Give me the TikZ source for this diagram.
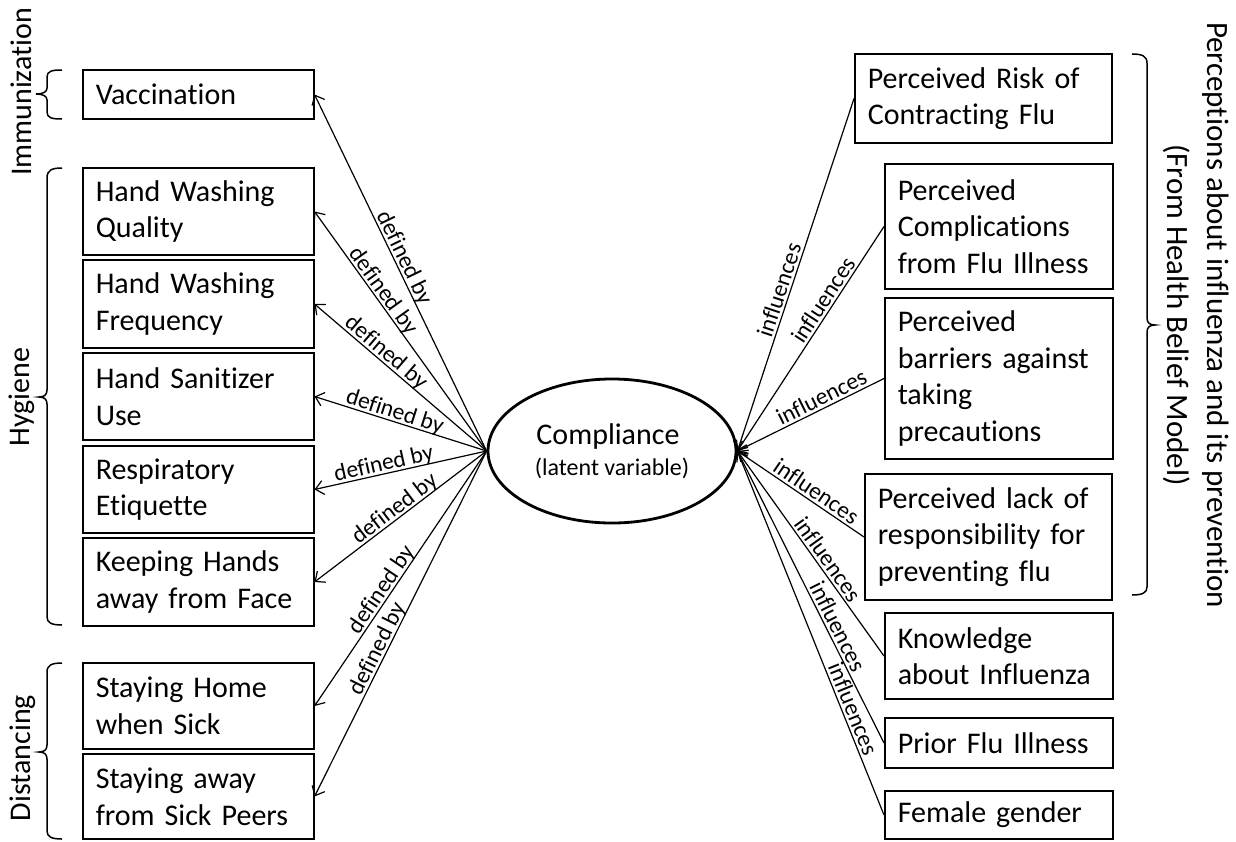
\documentclass[tikz,border=0pt]{standalone}
\usepackage{fontspec}
\setmainfont{Carlito}[Ligatures={NoCommon,NoContextual}]
\usetikzlibrary{shapes.geometric,arrows.meta}
\begin{document}
\begin{tikzpicture}[x=1pt,y=-1pt,
  box/.style={draw, line width=1.5pt, anchor=west, inner xsep=13pt, inner ysep=0pt, align=left, font=\fontsize{30}{36.6}\selectfont},
  lbox/.style={box, minimum width=231pt, text width=205pt},
  rbox/.style={box, minimum width=228pt, text width=202pt},
  lbl/.style={font=\fontsize{23.5}{27}\selectfont, sloped, above, inner sep=2.5pt, text depth=0pt},
  arr/.style={line width=1.2pt, -{Straight Barb[length=8pt,width=14pt,line width=1.2pt]}},
  rarr/.style={line width=1.2pt, {Straight Barb[length=8pt,width=14pt,line width=1.2pt]}-},
  brc/.style={line width=1.5pt},
  side/.style={font=\fontsize{30}{36.6}\selectfont, align=center, inner sep=0pt}
]
\useasboundingbox (0,0) rectangle (1236,841);

% left boxes
\node[lbox, minimum height=49pt] (vac) at (82,94.5) {Vaccination};
\node[lbox, minimum height=87pt] (hwq) at (82,211.5) {Hand Washing\\Quality};
\node[lbox, minimum height=88pt] (hwf) at (82,304) {Hand Washing\\Frequency};
\node[lbox, minimum height=87pt] (hsu) at (82,396.5) {Hand Sanitizer\\Use};
\node[lbox, minimum height=87pt] (re) at (82,489.5) {Respiratory\\Etiquette};
\node[lbox, minimum height=88pt] (kh) at (82,582) {Keeping Hands\\away from Face};
\node[lbox, minimum height=86pt] (sh) at (82,706) {Staying Home\\when Sick};
\node[lbox, minimum height=85pt] (sa) at (82,796.5) {Staying away\\from Sick Peers};

% right boxes
\node[box, minimum width=257pt, text width=231pt, minimum height=89pt] (pr) at (854,98.5) {Perceived Risk of\\Contracting Flu};
\node[rbox, minimum height=125pt] (pc) at (884,226.5) {Perceived\\Complications\\from Flu Illness};
\node[rbox, minimum height=161pt] (pb) at (884,378.5) {Perceived\\barriers against\\taking\\precautions};
\node[box, minimum width=247pt, text width=221pt, minimum height=126pt] (pl) at (864,537) {Perceived lack of\\responsibility for\\preventing flu};
\node[rbox, minimum height=86pt] (ki) at (884,656) {Knowledge\\about Influenza};
\node[rbox, minimum height=50pt] (pf) at (884,743) {Prior Flu Illness};
\node[rbox, minimum height=48pt] (fg) at (884,815) {Female gender};

% ellipse
\node[ellipse, draw, line width=2.8pt, minimum width=248pt, minimum height=144pt, inner sep=0pt, align=center, font=\fontsize{30}{36.6}\selectfont] (ell) at (612,451) {\hspace*{-8pt}Compliance\\[-6pt]{\fontsize{24}{28}\selectfont (latent variable)}};

% left connectors
\draw[arr] (ell.west) -- node[lbl, pos=0.53] {defined by} (vac.east);
\draw[arr] (ell.west) -- node[lbl, pos=0.645] {defined by} (hwq.east);
\draw[arr] (ell.west) -- node[lbl, pos=0.62] {defined by} (hwf.east);
\draw[arr] (ell.west) -- node[lbl, pos=0.55] {defined by} (hsu.east);
\draw[arr] (ell.west) -- node[lbl, pos=0.585] {defined by} (re.east);
\draw[arr] (ell.west) -- node[lbl, pos=0.50] {defined by} (kh.east);
\draw[arr] (ell.west) -- node[lbl, pos=0.565] {defined by} (sh.east);
\draw[arr] (ell.west) -- node[lbl, pos=0.585] {defined by} (sa.east);

% right connectors
\draw[rarr] (ell.east) -- node[lbl, pos=0.447] {influences} (pr.west);
\draw[rarr] (ell.east) -- node[lbl, pos=0.647] {influences} (pc.west);
\draw[rarr] (ell.east) -- node[lbl, pos=0.607] {influences} (pb.west);
\draw[rarr] (ell.east) -- node[lbl, pos=0.575] {influences} (pl.west);
\draw[rarr] (ell.east) -- node[lbl, pos=0.56] {influences} (ki.west);
\draw[rarr] (ell.east) -- node[lbl, pos=0.618] {influences} (pf.west);
\draw[rarr] (ell.east) -- node[lbl, pos=0.72] {influences} (fg.west);

% left braces
\draw[brc] (62,70) .. controls (52,70) and (47,71) .. (47,77) -- (47,88) .. controls (47,92) and (43,94) .. (36,94) .. controls (43,94) and (47,96) .. (47,100) -- (47,112) .. controls (47,118) and (52,119) .. (62,119);
\draw[brc] (62,168) .. controls (52,168) and (47,170) .. (47,178) -- (47,390) .. controls (47,395) and (44,397) .. (39,397) .. controls (44,397) and (47,399) .. (47,404) -- (47,617) .. controls (47,623) and (52,625) .. (62,625);
\draw[brc] (62,663) .. controls (52,663) and (47,665) .. (47,672) -- (47,745) .. controls (47,750) and (44,752) .. (39,752) .. controls (44,752) and (47,754) .. (47,759) -- (47,831) .. controls (47,837) and (52,839) .. (62,839);
% right brace
\draw[brc] (1132,54) .. controls (1142,54) and (1147,56) .. (1147,63) -- (1147,318) .. controls (1147,323) and (1150,325) .. (1155,325) .. controls (1150,325) and (1147,327) .. (1147,332) -- (1147,587) .. controls (1147,593) and (1142,595) .. (1132,595);

% side labels
\node[side, rotate=90, anchor=base] (imm) at (31,92) {Immunization};
\node[side, rotate=90, anchor=base] (hyg) at (29,397) {Hygiene};
\node[side, rotate=90, anchor=base] (dis) at (30,758) {Distancing};
\node[side, rotate=-90, font=\fontsize{31}{37.8}\selectfont] (per) at (1196,315) {Perceptions about influenza and its prevention\\[3pt](From Health Belief Model)};
\end{tikzpicture}
\end{document}
